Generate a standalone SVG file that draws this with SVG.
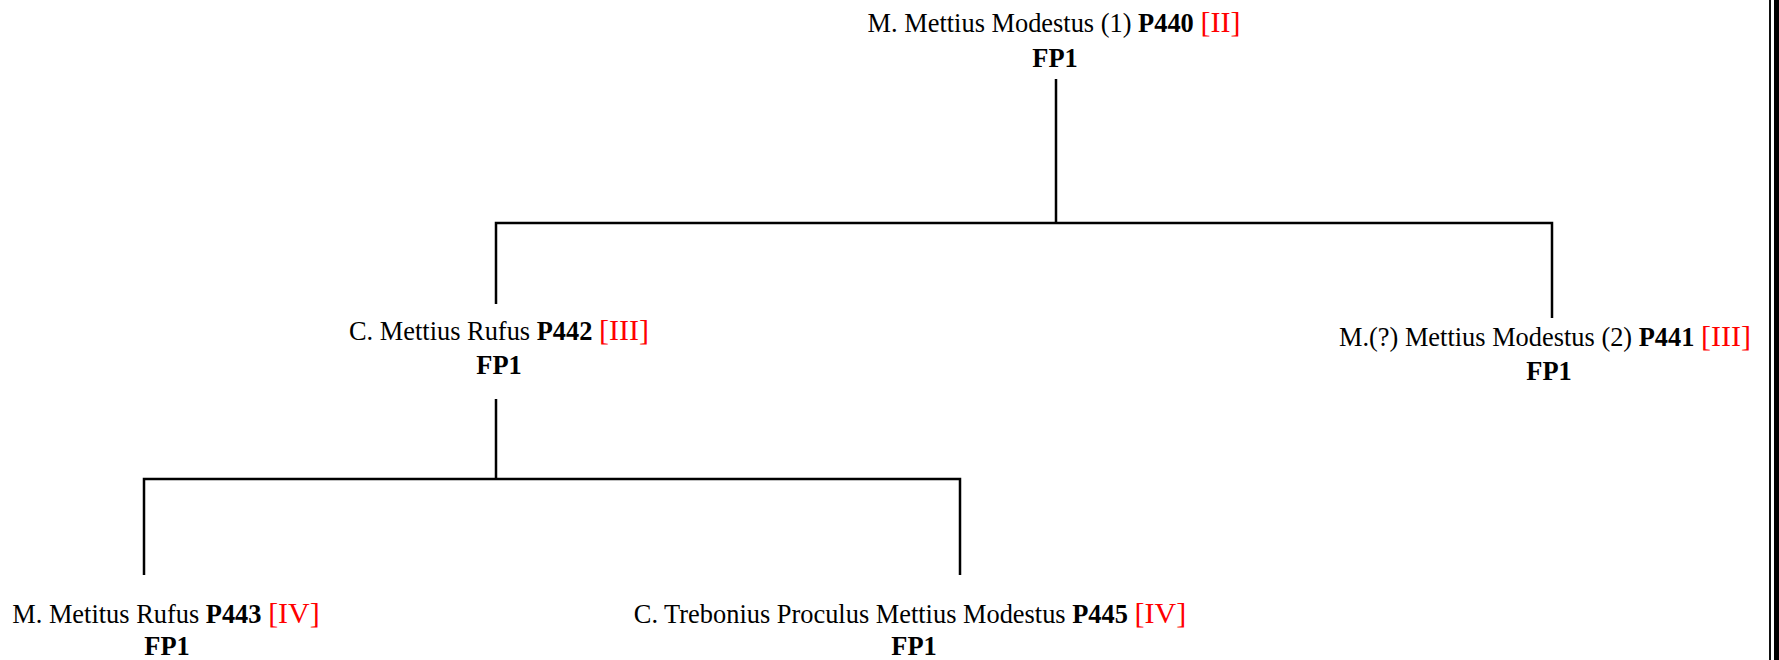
<svg xmlns="http://www.w3.org/2000/svg" width="1779" height="660" viewBox="0 0 1779 660">
<style>
text{font-family:"Liberation Serif","Times New Roman",serif;font-size:26.4px;fill:#000;text-anchor:middle}
.b{font-weight:bold}
.r{fill:#ff0000;font-size:30px}
.c{stroke:#000;stroke-width:2.5;fill:none}
</style>
<rect width="1779" height="660" fill="#fff"/>
<g id="border">
<rect x="1769" y="0" width="2" height="660" fill="#111"/>
<rect x="1774" y="0" width="5" height="660" fill="#000"/>
</g>
<g id="connectors">
<path class="c" d="M1056 79V223M496 304V223H1552V318"/>
<path class="c" d="M496 399V479M144 575V479H960V575"/>
</g>
<g id="n440">
<text x="1054" y="32">M. Mettius Modestus (1) <tspan class="b">P440</tspan> <tspan class="r">[II]</tspan></text>
<text x="1055" y="67" class="b">FP1</text>
</g>
<g id="n442">
<text x="499" y="340">C. Mettius Rufus <tspan class="b">P442</tspan> <tspan class="r">[III]</tspan></text>
<text x="499" y="374" class="b">FP1</text>
</g>
<g id="n441">
<text x="1545" y="346">M.(?) Mettius Modestus (2) <tspan class="b">P441</tspan> <tspan class="r">[III]</tspan></text>
<text x="1549" y="380" class="b">FP1</text>
</g>
<g id="n443">
<text x="166" y="623">M. Metitus Rufus <tspan class="b">P443</tspan> <tspan class="r">[IV]</tspan></text>
<text x="167" y="655" class="b">FP1</text>
</g>
<g id="n445">
<text x="910" y="623">C. Trebonius Proculus Mettius Modestus <tspan class="b">P445</tspan> <tspan class="r">[IV]</tspan></text>
<text x="914" y="655" class="b">FP1</text>
</g>
</svg>
